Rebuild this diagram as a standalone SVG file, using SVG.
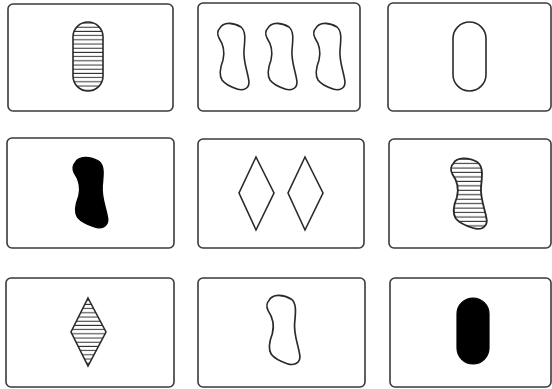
<svg xmlns="http://www.w3.org/2000/svg" width="552" height="389" viewBox="0 0 552 389">
<style>
.card{fill:#fff;stroke:#3a3a3a;stroke-width:1.6}
.out{fill:none;stroke:#2a2a2a;stroke-width:1.6}
.solid{fill:#000;stroke:#000;stroke-width:1.2}
.striped{fill:url(#stripes);stroke:#2a2a2a;stroke-width:1.6}
</style>
<defs>
<pattern id="stripes" patternUnits="userSpaceOnUse" width="8" height="4.2">
<rect width="8" height="4.2" fill="#fff"/>
<line x1="0" y1="2" x2="8" y2="2" stroke="#333" stroke-width="1"/>
</pattern>
<path id="squig" d="M3,6 C6,0 16,0 24,5 C29,9 28,18 27,28 C26,40 31,50 32,60 C32,67 26,69 20,67 C14,65 8,62 5,58 C2,53 3,46 6,38 C8,30 6,22 2,16 C0,12 1,8 3,6 Z"/>
</defs>
<rect width="552" height="389" fill="#fff"/>
<g id="card-1-1">
<rect class="card" x="8" y="4" width="165" height="107" rx="5"/>
<rect class="striped" x="73" y="22" width="30" height="69" rx="15"/>
</g>
<g id="card-1-2">
<rect class="card" x="198" y="3" width="162" height="108" rx="5"/>
<use href="#squig" class="out" transform="translate(217,22)"/>
<use href="#squig" class="out" transform="translate(265,22)"/>
<use href="#squig" class="out" transform="translate(313,22)"/>
</g>
<g id="card-1-3">
<rect class="card" x="388" y="3" width="163" height="108" rx="5"/>
<rect class="out" x="453" y="22" width="33" height="69" rx="16.5"/>
</g>
<g id="card-2-1">
<rect class="card" x="7" y="138" width="167" height="110" rx="5"/>
<use href="#squig" class="solid" transform="translate(72,156) scale(1.12,1.06)"/>
</g>
<g id="card-2-2">
<rect class="card" x="198" y="139" width="166" height="109" rx="5"/>
<polygon class="out" points="256,157 274,193 256,230 239,193"/>
<polygon class="out" points="305,157 323,193 305,230 288,193"/>
</g>
<g id="card-2-3">
<rect class="card" x="389" y="139" width="162" height="109" rx="5"/>
<use href="#squig" class="striped" transform="translate(450,157) scale(1.15,1.06)"/>
</g>
<g id="card-3-1">
<rect class="card" x="6" y="278" width="168" height="109" rx="5"/>
<polygon class="striped" points="88,298 106,332 88,366 71,332"/>
</g>
<g id="card-3-2">
<rect class="card" x="198" y="278" width="167" height="109" rx="5"/>
<use href="#squig" class="out" transform="translate(266,294) scale(1.06,1.04)"/>
</g>
<g id="card-3-3">
<rect class="card" x="390" y="278" width="161" height="109" rx="5"/>
<rect class="solid" x="457" y="298" width="32" height="66" rx="16"/>
</g>
</svg>
